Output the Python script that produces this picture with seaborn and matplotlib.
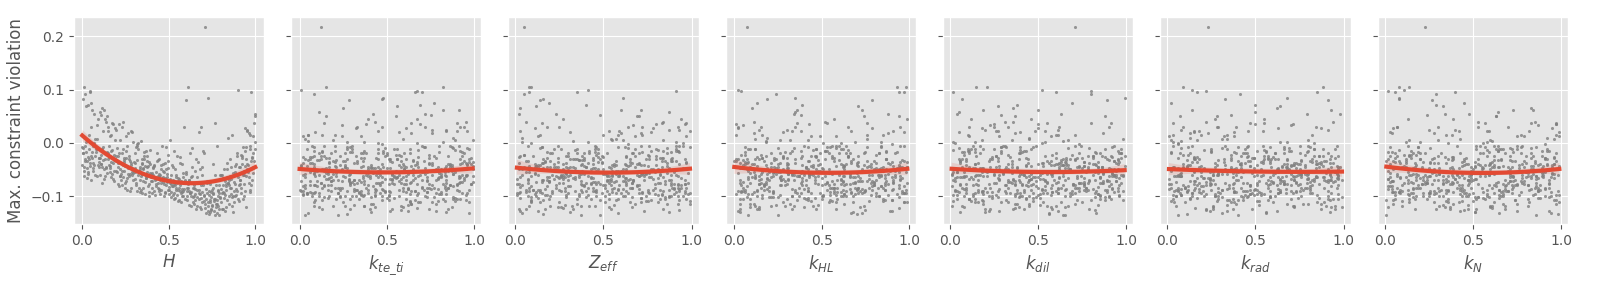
import numpy as np
import pandas as pd
import matplotlib
matplotlib.use("Agg")
import matplotlib.pyplot as plt
import seaborn as sns

# max. constraint violation (x 1e-3), one value per sample, same samples in every panel
violation = [
    82, 105, -48, -30, -62, 62, -41, -12, 45, -55, -20, 92, -66, -38, 75, -52, -25, 8, -45, 15,
    -8, -34, 70, -58, -44, -18, 55, -63, -36, -5, -52, 2, -27, 95, -70, -48, -60, 33, -28, -42,
    58, -45, -67, 40, -30, -55, 12, -38, -72, 25, -22, 65, -50, -62, 30, -41, -15, -58, 5, -35,
    -60, 22, -33, -48, 50, -26, -65, 38, -52, -10, -40, -75, 45, -20, -56, -44, 15, -68, -30, 28,
    -55, 35, -70, -42, -85, -28, 18, -62, -48, -36, -78, -50, 5, -65, -32, -88, -45, -58, 22, -70,
    -35, -63, -80, 40, -52, -72, -25, -90, -60, 2, -46, -82, -58, -20, -75, 12, -66, -38, -84, -54,
    -68, -2, -85, -45, -95, -30, -74, -55, -100, -40, -20, -80, -60, 3, -88, -50, -66, -35, -92, -72,
    -48, -90, -12, -70, -58, -25, -97, -82, -44, -64, -8, -76, -52, -93, -38, -84, -15, -62, -78, -56,
    -72, -90, -55, -84, -30, -96, -65, -78, -50, -88, -60, -42, -98, -75, -86, -68, -5, -92, -80, -58,
    -85, -64, -78, -20, -70, -88, -52, -100, -74, -35, -95, -48, -82, -62, -90, -76, -40, -66, -94, -83,
    -88, -102, -70, -95, -25, -110, -80, -92, -65, -105, 5, -78, -98, -84, -60, -108, -90, -40, -100, -75,
    -96, -82, -45, -104, -88, -72, -112, -94, 30, -86, -76, -92, -106, -15, -98, -84, -68, -100, -90, -55,
    80, 105, -95, -112, -80, -30, -118, -88, -104, -60, -100, -85, -118, -45, -96, -108, -74, 20, -125, -92,
    -108, -70, -94, -10, -115, -86, -102, -50, -120, -80, -90, -116, -20, -100, -84, -124, -65, -106, 30, -112,
    218, -122, -95, -130, -108, -85, -135, -115, -100, -60, -110, 85, -128, -90, -118, -40, -105, -132, -88, -125,
    -98, -132, -75, -112, -126, -95, 37, -120, -135, -102, -20, -105, -118, -134, -92, -110, -128, -5, -115, -80,
    -112, -80, -128, -65, -100, -30, -118, -90, -55, -105, -95, -124, -72, -108, 10, -85, -130, -62, -98, -40,
    -60, -104, -88, -120, -75, -96, -45, -112, -78, -20, -125, -92, -50, -82, -115, -68, 15, -100, -86, -58,
    100, -85, -60, -100, -30, 22, -75, 95, -45, 50, -110, -70, -40, -90, -15, -55, 18, -80, -20, 55,
    -65, -95, -25, -78, -120, -50, -5, -88, 12, -35, -80, -45, -105, -8, -62, 25, -92, -28, -70, -12,
    -20, -5, -35, -12, 30, -28, 0, -18, -42, 72, -10, -30, -18, 98, -25, -38, 8, -12, -28, -45,
    -28, -12, 62, -45, -20, -5, -36, 35, -22, -52, -40, -8, -30, -18, 22, -48, -14, -32, -25, 52,
    -38, -20, -52, -28, -44, -6, -58, -34, 20, -50, -24, -62, 30, -36, -16, -48, -30, -42, -56, -12,
    -54, -32, 0, -62, -40, -18, -66, -46, -36, -58, -38, -6, -50, -30, -72, -44, -24, -62, -14, -48,
    -56, -44, -68, -32, -60, -50, -74, -38, -64, -22, -46, -70, -34, -58, -42, -66, -54, -8, -48, -62,
    -72, -60, -82, -50, -76, -66, -38, -86, -74, -58, -68, -42, -78, -64, -88, -26, -72, -56, -70, -80,
    -84, -70, -92, -62, -100, -76, -36, -94, -80, -15, -78, -90, -64, -102, -52, -88, -74, -96, -46, -84,
    -100, -86, -112, -78, -116, -96, -60, -108, -90, -104, -114, -72, -98, -124, -88, -106, -80, -118, -94, -102,
    -86, -66, -98, -50, -80, -62, -102, -74, -44, -90, -60, -94, -78, -38, -70, -84, -56, -100, -24, -76,
    -45, -78, -28, -60, -8, -42, 14, -34, -56, 2, -70, -22, -52, 28, -40, -64, -12, -26, 38, -44,
]

# H (x 1e-3)
H = [
    3, 12, 25, 41, 8, 55, 67, 79, 91, 33, 5, 18, 29, 44, 50, 61, 73, 86, 97, 38,
    1, 15, 22, 36, 47, 58, 70, 83, 94, 65, 9, 20, 31, 42, 53, 64, 76, 88, 99, 0,
    104, 117, 125, 139, 146, 158, 163, 177, 185, 196, 108, 112, 128, 133, 149, 152, 168, 171, 189, 193,
    101, 119, 122, 137, 141, 155, 166, 174, 182, 199, 106, 115, 131, 135, 144, 161, 169, 179, 187, 191,
    203, 214, 226, 233, 247, 251, 266, 272, 285, 298, 208, 219, 221, 238, 242, 259, 263, 277, 281, 292,
    201, 216, 229, 236, 244, 255, 268, 274, 287, 295, 206, 211, 224, 231, 249, 253, 261, 279, 283, 290,
    302, 315, 327, 334, 348, 356, 361, 377, 384, 393, 307, 312, 324, 339, 341, 352, 368, 373, 386, 398,
    305, 318, 321, 336, 344, 359, 364, 379, 382, 395, 309, 311, 329, 331, 347, 353, 366, 371, 388, 390,
    404, 413, 428, 435, 446, 452, 467, 471, 486, 497, 408, 417, 422, 438, 443, 459, 461, 479, 483, 492,
    401, 419, 426, 433, 447, 454, 465, 474, 488, 495, 406, 411, 424, 437, 441, 456, 469, 476, 481, 499,
    503, 515, 527, 531, 548, 552, 566, 574, 585, 593, 507, 512, 524, 539, 541, 558, 563, 577, 582, 596,
    501, 518, 522, 536, 544, 555, 569, 571, 588, 590, 505, 511, 529, 533, 546, 557, 561, 579, 584, 598,
    602, 614, 625, 638, 643, 657, 662, 676, 684, 695, 608, 611, 627, 633, 649, 651, 668, 672, 689, 691,
    605, 617, 621, 636, 645, 654, 665, 679, 682, 698, 606, 619, 623, 631, 647, 659, 661, 674, 687, 693,
    712, 708, 723, 738, 741, 756, 765, 772, 784, 797, 703, 729, 727, 734, 749, 753, 767, 779, 786, 791,
    701, 716, 721, 737, 745, 758, 769, 774, 788, 795, 706, 714, 725, 732, 747, 759, 762, 777, 781, 793,
    804, 816, 823, 835, 846, 852, 864, 877, 883, 898, 809, 812, 826, 838, 841, 855, 869, 873, 887, 891,
    801, 818, 828, 831, 844, 859, 862, 878, 885, 894, 806, 814, 821, 833, 849, 857, 866, 871, 889, 896,
    902, 915, 927, 933, 948, 951, 966, 974, 985, 997, 907, 912, 924, 939, 941, 958, 963, 977, 986, 1000,
    901, 918, 922, 936, 944, 955, 969, 971, 988, 995, 905, 911, 929, 931, 947, 953, 968, 979, 982, 999,
    4, 16, 27, 39, 48, 57, 69, 81, 92, 35, 7, 14, 24, 46, 52, 63, 74, 85, 96, 11,
    103, 114, 127, 136, 148, 156, 165, 176, 184, 197, 109, 121, 129, 143, 151, 162, 172, 181, 194, 110,
    204, 213, 227, 239, 245, 257, 264, 276, 286, 297, 209, 218, 232, 241, 252, 262, 271, 282, 293, 234,
    303, 316, 325, 338, 345, 357, 367, 376, 387, 396, 306, 319, 332, 343, 351, 362, 374, 383, 392, 349,
    403, 414, 427, 436, 448, 457, 466, 478, 487, 496, 409, 418, 431, 442, 453, 463, 472, 482, 493, 444,
    504, 513, 526, 537, 547, 556, 567, 576, 586, 597, 508, 519, 532, 543, 553, 564, 573, 583, 594, 538,
    603, 615, 626, 637, 648, 656, 667, 677, 685, 696, 609, 618, 628, 641, 653, 664, 673, 683, 694, 639,
    704, 715, 726, 736, 748, 757, 766, 776, 787, 796, 709, 719, 731, 742, 752, 763, 773, 783, 792, 743,
    803, 815, 824, 836, 847, 856, 867, 876, 884, 895, 808, 819, 829, 839, 851, 861, 872, 882, 892, 843,
    904, 914, 926, 937, 946, 957, 967, 976, 987, 996, 909, 919, 932, 942, 952, 962, 972, 983, 993, 938,
]

# remaining inputs (x 1e-2)
k_te_ti = [
    47, 82, 15, 3, 68, 91, 26, 54, 39, 70, 63, 8, 94, 31, 77, 45, 12, 59, 86, 20,
    29, 71, 56, 88, 4, 13, 42, 95, 67, 30, 85, 37, 2, 66, 19, 50, 93, 24, 78, 41,
    11, 58, 79, 43, 97, 62, 35, 6, 28, 84, 74, 25, 60, 9, 33, 87, 48, 16, 99, 52,
    38, 96, 21, 72, 55, 7, 81, 64, 14, 49, 92, 44, 67, 18, 80, 36, 5, 53, 27, 61,
    6, 69, 34, 57, 23, 98, 76, 40, 83, 17, 51, 13, 89, 26, 65, 0, 39, 72, 45, 94,
    33, 84, 46, 95, 10, 73, 58, 2, 69, 27, 79, 2, 53, 38, 91, 24, 66, 17, 85, 40,
    16, 47, 74, 61, 8, 52, 30, 89, 23, 96, 60, 90, 28, 5, 44, 81, 17, 36, 73, 57,
    42, 35, 97, 70, 29, 14, 63, 88, 1, 56, 87, 63, 9, 49, 76, 38, 92, 21, 54, 15,
    24, 18, 71, 83, 56, 4, 45, 67, 99, 32, 95, 76, 37, 12, 62, 58, 20, 43, 8, 81,
    3, 59, 82, 45, 31, 97, 74, 11, 64, 26, 68, 27, 14, 91, 49, 33, 86, 55, 7, 70,
    57, 41, 65, 22, 93, 79, 6, 34, 18, 88, 19, 98, 43, 77, 2, 66, 51, 85, 30, 12,
    81, 10, 26, 54, 39, 1, 68, 93, 47, 75, 46, 73, 90, 8, 67, 24, 15, 32, 59, 83,
    28, 15, 4, 63, 86, 92, 37, 71, 50, 44, 72, 22, 58, 35, 84, 47, 99, 9, 13, 61,
    9, 53, 78, 96, 42, 31, 23, 60, 87, 14, 64, 31, 11, 47, 73, 85, 56, 29, 92, 8,
    12, 67, 39, 84, 95, 20, 3, 78, 51, 46, 89, 48, 62, 1, 26, 74, 34, 97, 16, 53,
    35, 5, 84, 69, 58, 11, 90, 43, 22, 77, 50, 92, 19, 27, 6, 63, 78, 14, 41, 86,
    97, 39, 52, 80, 17, 45, 8, 66, 73, 21, 22, 74, 6, 13, 88, 59, 41, 36, 95, 67,
    76, 16, 33, 59, 45, 2, 87, 25, 61, 94, 40, 81, 95, 42, 64, 28, 13, 57, 79, 3,
    1, 62, 83, 36, 51, 90, 29, 70, 48, 15, 83, 28, 47, 91, 20, 16, 64, 9, 35, 72,
    54, 96, 23, 74, 11, 39, 80, 48, 2, 65, 18, 45, 61, 8, 99, 76, 52, 37, 84, 30,
    36, 91, 58, 4, 72, 17, 45, 80, 23, 69, 88, 12, 30, 67, 49, 95, 3, 56, 74, 21,
    15, 63, 82, 41, 26, 7, 97, 38, 50, 79, 59, 27, 6, 93, 84, 43, 68, 11, 32, 75,
    2, 48, 71, 35, 60, 86, 19, 94, 57, 24, 77, 39, 94, 20, 13, 52, 61, 86, 8, 45,
    44, 5, 67, 81, 98, 29, 36, 17, 53, 62, 93, 70, 14, 56, 37, 64, 8, 25, 89, 41,
    21, 84, 49, 10, 65, 78, 92, 33, 3, 57, 68, 31, 25, 88, 1, 40, 55, 72, 96, 14,
    10, 57, 83, 46, 29, 91, 74, 62, 35, 8, 52, 96, 37, 73, 84, 6, 18, 45, 61, 29,
    85, 22, 9, 61, 43, 58, 99, 4, 76, 37, 31, 66, 92, 14, 55, 23, 47, 80, 8, 70,
    7, 43, 76, 98, 62, 35, 11, 51, 27, 89, 64, 18, 51, 29, 90, 82, 3, 37, 46, 73,
    47, 79, 2, 65, 16, 54, 88, 93, 20, 31, 96, 34, 60, 7, 78, 13, 42, 26, 85, 53,
    26, 90, 44, 53, 71, 66, 5, 19, 39, 82, 73, 55, 87, 32, 8, 47, 27, 68, 14, 99,
]

Z_eff = [
    16, 9, 34, 88, 52, 71, 63, 45, 27, 90, 66, 5, 43, 97, 19, 28, 80, 54, 31, 72,
    58, 85, 12, 37, 64, 93, 2, 26, 49, 76, 24, 91, 50, 8, 73, 45, 36, 67, 82, 13,
    87, 40, 22, 6, 31, 79, 68, 15, 54, 93, 46, 3, 77, 61, 18, 55, 92, 39, 84, 20,
    13, 59, 38, 95, 70, 2, 27, 83, 46, 64, 69, 25, 94, 42, 11, 86, 50, 7, 33, 78,
    32, 80, 16, 57, 89, 44, 71, 23, 8, 65, 90, 47, 61, 28, 36, 13, 5, 74, 99, 52,
    17, 73, 4, 84, 55, 62, 38, 96, 21, 41, 53, 9, 29, 70, 43, 97, 81, 16, 65, 34,
    78, 64, 56, 11, 2, 35, 19, 48, 87, 93, 39, 88, 71, 33, 25, 50, 94, 6, 12, 67,
    4, 21, 47, 96, 82, 68, 53, 30, 75, 18, 62, 98, 35, 14, 49, 23, 77, 59, 1, 86,
    85, 52, 8, 41, 74, 90, 26, 37, 63, 10, 27, 14, 83, 66, 58, 1, 45, 91, 39, 72,
    44, 76, 92, 20, 7, 37, 63, 51, 15, 89, 96, 30, 18, 55, 63, 82, 11, 44, 70, 3,
    10, 85, 67, 49, 29, 74, 92, 3, 36, 58, 55, 43, 1, 79, 91, 16, 34, 62, 88, 27,
    36, 69, 24, 3, 46, 57, 81, 15, 92, 70, 81, 6, 53, 92, 17, 28, 65, 74, 40, 39,
    14, 8, 99, 25, 63, 48, 37, 87, 71, 52, 20, 94, 42, 68, 83, 9, 56, 31, 17, 75,
    48, 18, 76, 86, 35, 61, 29, 2, 53, 94, 93, 56, 30, 7, 66, 84, 43, 19, 25, 71,
    5, 27, 64, 31, 77, 90, 48, 86, 12, 59, 75, 61, 13, 44, 20, 38, 97, 58, 82, 6,
    29, 4, 88, 51, 93, 72, 15, 66, 37, 40, 67, 82, 45, 16, 38, 9, 73, 24, 99, 51,
    14, 50, 3, 77, 61, 96, 32, 45, 28, 85, 57, 33, 19, 93, 4, 66, 87, 70, 41, 22,
    88, 71, 58, 24, 53, 11, 40, 9, 96, 35, 2, 46, 81, 39, 68, 27, 14, 92, 55, 73,
    41, 97, 26, 62, 80, 53, 7, 35, 18, 69, 99, 15, 70, 8, 42, 31, 60, 54, 86, 23,
    34, 60, 49, 85, 26, 4, 91, 78, 13, 57, 70, 23, 35, 46, 9, 87, 55, 18, 64, 91,
    52, 7, 83, 26, 64, 39, 95, 18, 71, 40, 14, 76, 45, 91, 30, 2, 57, 68, 83, 29,
    89, 35, 60, 13, 47, 71, 24, 96, 5, 58, 27, 99, 16, 72, 3, 54, 81, 39, 63, 48,
    66, 21, 38, 84, 12, 95, 50, 7, 77, 43, 3, 58, 72, 47, 91, 16, 34, 65, 29, 80,
    75, 44, 9, 30, 56, 88, 63, 22, 97, 11, 41, 93, 27, 65, 19, 8, 76, 53, 34, 87,
    98, 12, 54, 36, 82, 61, 47, 70, 24, 5, 20, 67, 88, 51, 73, 33, 6, 15, 44, 92,
    61, 4, 31, 78, 40, 25, 86, 93, 12, 57, 34, 80, 96, 19, 6, 47, 52, 71, 88, 23,
    8, 53, 72, 41, 95, 66, 17, 30, 59, 84, 79, 26, 3, 87, 60, 14, 45, 98, 33, 51,
    46, 90, 65, 2, 28, 79, 31, 57, 84, 13, 92, 37, 18, 54, 75, 43, 69, 8, 21, 66,
    17, 62, 81, 95, 38, 70, 9, 44, 56, 28, 55, 1, 46, 29, 87, 92, 74, 36, 10, 63,
    83, 48, 24, 69, 15, 37, 58, 91, 76, 4, 30, 75, 57, 11, 44, 84, 22, 63, 97, 39,
]

k_HL = [
    19, 98, 84, 2, 36, 73, 45, 61, 57, 30, 92, 24, 50, 67, 13, 8, 39, 76, 41, 85,
    6, 43, 71, 15, 58, 87, 34, 22, 99, 60, 48, 69, 13, 94, 27, 31, 82, 5, 56, 70,
    35, 96, 61, 52, 7, 20, 44, 88, 73, 14, 81, 10, 28, 37, 65, 94, 53, 19, 42, 76,
    60, 33, 5, 81, 94, 47, 12, 76, 29, 58, 25, 78, 99, 54, 40, 63, 16, 31, 87, 2,
    73, 1, 46, 30, 59, 16, 88, 62, 24, 95, 14, 87, 32, 69, 48, 75, 23, 56, 91, 3,
    97, 52, 80, 11, 26, 39, 65, 4, 43, 18, 41, 17, 66, 83, 9, 58, 72, 30, 94, 25,
    8, 90, 37, 45, 71, 24, 53, 16, 62, 89, 66, 29, 84, 18, 53, 7, 96, 42, 35, 71,
    30, 75, 12, 59, 88, 44, 1, 97, 63, 26, 53, 46, 92, 6, 21, 69, 38, 84, 17, 70,
    87, 64, 23, 77, 35, 93, 10, 48, 51, 6, 12, 39, 55, 91, 70, 28, 84, 67, 4, 43,
    71, 8, 14, 26, 95, 62, 49, 33, 80, 57, 44, 93, 79, 63, 2, 15, 31, 86, 57, 20,
    90, 20, 41, 73, 47, 56, 27, 11, 68, 85, 26, 61, 88, 5, 34, 90, 72, 49, 13, 38,
    63, 84, 9, 40, 17, 76, 58, 22, 35, 91, 3, 55, 30, 87, 78, 42, 19, 64, 96, 11,
    79, 93, 67, 28, 54, 1, 12, 35, 46, 83, 37, 71, 45, 95, 10, 86, 62, 28, 3, 59,
    55, 27, 98, 34, 63, 19, 7, 80, 72, 41, 20, 48, 74, 50, 82, 33, 66, 9, 15, 97,
    7, 94, 36, 68, 42, 57, 25, 11, 83, 79, 85, 35, 2, 13, 29, 64, 50, 73, 98, 47,
    16, 67, 53, 99, 75, 81, 36, 40, 8, 22, 49, 3, 21, 70, 61, 44, 89, 95, 32, 17,
    68, 80, 90, 43, 33, 12, 74, 57, 26, 5, 96, 14, 62, 36, 19, 85, 3, 27, 51, 78,
    33, 42, 79, 9, 86, 69, 21, 54, 18, 60, 58, 22, 17, 84, 3, 95, 76, 68, 40, 31,
    2, 56, 43, 61, 14, 38, 80, 97, 25, 74, 77, 91, 6, 22, 52, 46, 11, 39, 64, 88,
    21, 38, 65, 57, 14, 73, 97, 86, 49, 0, 94, 76, 59, 42, 66, 30, 4, 23, 81, 12,
    83, 40, 17, 62, 95, 28, 51, 6, 74, 39, 25, 68, 93, 4, 56, 81, 12, 47, 30, 99,
    57, 9, 36, 78, 21, 64, 90, 43, 15, 82, 11, 84, 52, 29, 67, 3, 45, 96, 71, 38,
    70, 32, 89, 16, 44, 58, 24, 1, 97, 63, 46, 95, 2, 71, 33, 19, 87, 62, 54, 8,
    94, 23, 61, 48, 10, 75, 39, 85, 6, 31, 3, 56, 42, 87, 79, 91, 28, 14, 65, 50,
    38, 77, 15, 60, 92, 47, 69, 26, 83, 4, 62, 14, 80, 33, 5, 26, 98, 55, 41, 71,
    29, 86, 7, 54, 68, 12, 35, 73, 91, 44, 77, 48, 30, 92, 13, 65, 56, 2, 20, 86,
    15, 61, 74, 37, 83, 99, 8, 49, 26, 52, 88, 5, 46, 21, 39, 70, 18, 63, 94, 57,
    51, 33, 97, 66, 24, 8, 77, 90, 42, 16, 9, 72, 58, 13, 86, 41, 63, 34, 97, 25,
    66, 19, 26, 83, 50, 37, 94, 5, 71, 42, 40, 97, 64, 7, 31, 55, 22, 81, 18, 69,
    99, 52, 38, 45, 76, 18, 1, 67, 9, 84, 34, 6, 85, 79, 61, 90, 47, 28, 53, 13,
]

k_dil = [
    7, 21, 38, 95, 64, 50, 83, 12, 46, 77, 17, 80, 3, 52, 69, 94, 26, 45, 38, 61,
    92, 55, 27, 41, 76, 8, 63, 19, 84, 30, 39, 14, 88, 60, 2, 75, 51, 23, 97, 66,
    5, 73, 46, 31, 89, 18, 57, 62, 94, 20, 58, 36, 91, 74, 25, 43, 10, 87, 67, 9,
    81, 48, 66, 13, 37, 92, 4, 55, 20, 79, 33, 97, 12, 85, 64, 28, 71, 46, 9, 50,
    46, 25, 59, 9, 72, 81, 37, 90, 14, 63, 70, 62, 18, 43, 95, 54, 86, 1, 27, 39,
    22, 9, 71, 36, 48, 87, 15, 60, 93, 54, 86, 44, 30, 97, 55, 11, 62, 79, 23, 8,
    51, 73, 95, 26, 14, 68, 40, 2, 37, 82, 11, 58, 42, 64, 89, 33, 76, 27, 5, 90,
    67, 3, 25, 82, 40, 91, 19, 54, 76, 48, 29, 85, 64, 18, 6, 57, 43, 72, 91, 30,
    94, 31, 87, 50, 23, 69, 6, 15, 78, 42, 42, 67, 2, 74, 81, 36, 93, 58, 13, 25,
    7, 50, 76, 39, 16, 88, 22, 65, 44, 93, 55, 19, 49, 8, 73, 25, 61, 96, 32, 84,
    78, 90, 33, 61, 54, 12, 46, 21, 7, 85, 35, 6, 57, 92, 28, 80, 69, 14, 41, 73,
    13, 76, 84, 47, 65, 3, 29, 38, 90, 52, 60, 42, 11, 29, 96, 71, 53, 85, 18, 4,
    89, 15, 68, 53, 37, 44, 1, 76, 24, 97, 24, 63, 7, 86, 51, 98, 34, 40, 79, 16,
    72, 28, 40, 5, 19, 66, 82, 93, 57, 31, 4, 84, 96, 68, 33, 20, 47, 11, 62, 75,
    71, 37, 53, 20, 88, 9, 64, 45, 96, 16, 47, 99, 22, 77, 60, 35, 14, 83, 3, 58,
    26, 56, 73, 14, 82, 47, 91, 8, 65, 39, 83, 11, 45, 56, 93, 2, 28, 71, 37, 64,
    16, 70, 61, 94, 8, 39, 55, 27, 82, 43, 61, 23, 89, 32, 45, 77, 6, 98, 50, 14,
    98, 51, 16, 65, 26, 84, 72, 33, 9, 40, 36, 89, 28, 1, 71, 13, 60, 45, 92, 57,
    52, 77, 94, 40, 64, 26, 35, 2, 11, 88, 19, 65, 50, 83, 11, 59, 87, 32, 73, 4,
    85, 34, 81, 70, 39, 95, 17, 52, 28, 6, 43, 78, 4, 47, 92, 61, 24, 66, 89, 19,
    29, 74, 93, 46, 11, 60, 3, 82, 57, 38, 67, 5, 41, 80, 26, 53, 98, 14, 72, 35,
    43, 88, 19, 62, 97, 31, 76, 50, 8, 24, 95, 32, 71, 7, 54, 18, 40, 63, 86, 29,
    16, 60, 84, 27, 73, 49, 92, 35, 5, 68, 78, 21, 33, 96, 42, 65, 7, 59, 84, 10,
    4, 90, 52, 39, 81, 14, 67, 23, 76, 46, 56, 13, 68, 24, 37, 99, 81, 45, 2, 90,
    87, 46, 28, 71, 15, 3, 55, 94, 62, 33, 32, 79, 6, 58, 64, 85, 21, 40, 17, 93,
    49, 17, 90, 3, 86, 72, 44, 28, 61, 55, 11, 63, 47, 85, 38, 24, 79, 92, 54, 6,
    73, 36, 58, 14, 22, 87, 65, 9, 41, 95, 22, 95, 12, 49, 70, 46, 33, 84, 7, 61,
    90, 8, 63, 76, 51, 37, 25, 18, 98, 43, 38, 54, 85, 42, 9, 91, 16, 67, 71, 27,
    61, 27, 4, 31, 96, 58, 88, 76, 43, 19, 1, 82, 37, 66, 45, 20, 52, 13, 99, 78,
    84, 41, 75, 93, 29, 64, 10, 57, 35, 2, 45, 69, 26, 18, 60, 8, 97, 34, 80, 53,
]

k_rad = [
    33, 88, 6, 59, 71, 14, 42, 95, 27, 60, 75, 41, 20, 86, 2, 63, 57, 34, 98, 19,
    12, 90, 64, 31, 47, 25, 79, 8, 53, 96, 68, 3, 45, 17, 92, 84, 29, 70, 36, 51,
    50, 27, 83, 94, 16, 39, 1, 73, 65, 8, 9, 62, 38, 53, 84, 71, 25, 96, 17, 40,
    97, 15, 76, 42, 28, 60, 89, 3, 54, 31, 41, 73, 55, 2, 96, 19, 34, 80, 68, 87,
    24, 50, 91, 78, 35, 6, 13, 67, 49, 82, 86, 36, 2, 65, 11, 47, 78, 29, 54, 93,
    58, 19, 47, 22, 70, 95, 83, 38, 6, 64, 3, 81, 92, 45, 66, 32, 17, 54, 78, 26,
    79, 6, 29, 67, 53, 18, 91, 40, 14, 85, 44, 97, 60, 8, 31, 75, 23, 89, 52, 16,
    21, 58, 34, 99, 7, 86, 47, 12, 70, 63, 66, 24, 87, 39, 94, 10, 51, 73, 2, 48,
    15, 70, 43, 96, 82, 27, 58, 1, 36, 64, 92, 33, 8, 51, 18, 64, 75, 29, 47, 80,
    37, 84, 68, 13, 57, 5, 91, 42, 22, 76, 63, 2, 19, 84, 45, 38, 66, 97, 71, 10,
    6, 45, 72, 30, 88, 51, 17, 64, 93, 29, 80, 27, 53, 16, 39, 92, 4, 68, 61, 45,
    47, 93, 11, 74, 25, 66, 38, 82, 9, 50, 18, 64, 37, 56, 3, 89, 70, 21, 44, 95,
    91, 9, 48, 85, 62, 32, 26, 77, 13, 54, 29, 76, 95, 4, 51, 43, 60, 15, 87, 38,
    57, 40, 14, 69, 77, 8, 99, 33, 26, 82, 73, 52, 66, 27, 10, 48, 85, 91, 39, 4,
    23, 16, 81, 92, 34, 57, 40, 68, 5, 76, 2, 68, 24, 43, 90, 75, 13, 56, 81, 37,
    85, 31, 79, 60, 22, 14, 47, 93, 6, 58, 39, 94, 5, 11, 73, 28, 62, 46, 87, 70,
    10, 57, 34, 88, 46, 63, 71, 20, 95, 3, 67, 22, 90, 35, 13, 81, 56, 7, 49, 74,
    28, 86, 51, 72, 64, 97, 9, 36, 15, 43, 95, 11, 63, 47, 39, 24, 82, 58, 1, 70,
    14, 79, 26, 91, 55, 46, 33, 85, 68, 7, 52, 39, 87, 6, 80, 15, 23, 74, 61, 98,
    76, 7, 42, 25, 99, 69, 54, 12, 38, 81, 35, 65, 70, 58, 8, 91, 18, 49, 26, 83,
    61, 14, 47, 83, 29, 95, 6, 38, 72, 50, 8, 57, 79, 22, 93, 44, 31, 66, 15, 86,
    48, 25, 93, 59, 7, 80, 14, 71, 36, 2, 84, 40, 61, 2, 18, 73, 55, 29, 97, 36,
    27, 91, 15, 49, 65, 3, 76, 84, 38, 53, 55, 6, 28, 87, 70, 39, 92, 13, 61, 44,
    19, 68, 83, 7, 41, 56, 24, 97, 32, 75, 72, 33, 97, 15, 59, 88, 46, 4, 21, 63,
    90, 47, 1, 36, 26, 62, 73, 58, 84, 12, 36, 89, 54, 78, 12, 21, 63, 45, 9, 97,
    13, 74, 20, 91, 56, 80, 42, 67, 5, 34, 97, 28, 66, 37, 49, 15, 83, 8, 72, 51,
    42, 82, 38, 5, 76, 60, 17, 93, 24, 69, 66, 11, 72, 43, 87, 31, 94, 55, 18, 2,
    5, 63, 89, 58, 34, 22, 79, 40, 91, 17, 80, 52, 44, 26, 15, 97, 9, 72, 63, 31,
    34, 96, 8, 68, 22, 49, 58, 81, 11, 75, 51, 19, 75, 92, 64, 6, 37, 27, 86, 43,
    93, 37, 57, 14, 81, 70, 3, 46, 29, 68, 24, 78, 31, 63, 9, 42, 88, 17, 55, 96,
]

k_N = [
    8, 14, 42, 91, 25, 73, 57, 66, 39, 80, 54, 29, 87, 12, 45, 70, 3, 96, 61, 38,
    77, 5, 33, 62, 90, 19, 48, 81, 26, 54, 31, 58, 96, 40, 74, 6, 23, 87, 15, 62,
    64, 17, 2, 85, 53, 36, 99, 28, 71, 40, 18, 83, 55, 26, 7, 92, 64, 41, 30, 79,
    90, 42, 71, 7, 63, 34, 18, 57, 85, 26, 46, 24, 13, 68, 89, 51, 77, 35, 2, 95,
    69, 97, 28, 45, 16, 83, 4, 72, 37, 51, 23, 71, 60, 94, 38, 9, 55, 16, 82, 47,
    85, 36, 19, 53, 77, 4, 62, 98, 41, 20, 12, 63, 84, 32, 48, 75, 9, 26, 93, 57,
    40, 91, 7, 79, 22, 66, 35, 54, 18, 88, 97, 10, 49, 61, 35, 21, 83, 72, 56, 4,
    56, 44, 75, 18, 96, 30, 67, 3, 83, 22, 3, 78, 33, 94, 60, 49, 15, 86, 27, 71,
    73, 26, 91, 44, 12, 58, 80, 37, 5, 65, 29, 95, 65, 16, 83, 40, 52, 8, 74, 31,
    61, 12, 38, 77, 50, 87, 26, 94, 3, 45, 35, 89, 4, 57, 28, 63, 96, 20, 46, 73,
    82, 53, 24, 9, 71, 35, 47, 66, 90, 14, 14, 67, 97, 43, 59, 1, 31, 78, 22, 86,
    48, 2, 62, 88, 36, 79, 14, 25, 53, 91, 93, 39, 17, 64, 84, 55, 2, 46, 70, 28,
    27, 8, 50, 36, 75, 92, 61, 13, 87, 44, 66, 20, 81, 10, 43, 74, 38, 99, 52, 5,
    5, 48, 29, 83, 67, 16, 93, 60, 34, 72, 87, 33, 56, 25, 19, 68, 42, 81, 7, 99,
    23, 61, 72, 51, 97, 30, 86, 5, 44, 14, 50, 8, 43, 70, 31, 96, 24, 65, 88, 17,
    76, 94, 11, 28, 45, 62, 83, 37, 1, 59, 20, 57, 68, 98, 6, 44, 75, 13, 39, 81,
    42, 81, 93, 3, 58, 27, 10, 69, 64, 36, 15, 29, 36, 74, 92, 87, 51, 48, 6, 60,
    98, 65, 45, 60, 33, 13, 70, 82, 21, 6, 37, 4, 21, 86, 75, 52, 97, 31, 68, 18,
    11, 85, 78, 47, 20, 59, 39, 6, 95, 63, 10, 47, 3, 67, 93, 80, 28, 59, 16, 34,
    71, 16, 89, 53, 2, 39, 64, 43, 79, 97, 44, 72, 52, 19, 86, 25, 8, 91, 33, 67,
    43, 78, 12, 65, 30, 91, 56, 4, 87, 29, 71, 36, 59, 2, 84, 17, 43, 92, 28, 65,
    6, 52, 84, 38, 23, 75, 61, 97, 14, 49, 92, 19, 45, 73, 58, 31, 8, 66, 80, 24,
    35, 83, 27, 96, 11, 62, 49, 74, 3, 50, 58, 7, 70, 44, 92, 25, 39, 18, 81, 63,
    13, 64, 36, 89, 47, 2, 78, 51, 22, 95, 80, 41, 93, 20, 5, 67, 14, 33, 58, 76,
    27, 99, 51, 62, 38, 84, 23, 9, 73, 15, 64, 22, 8, 31, 76, 49, 90, 57, 16, 83,
    49, 15, 68, 83, 24, 96, 30, 72, 41, 7, 86, 54, 21, 9, 65, 38, 77, 3, 93, 42,
    18, 30, 77, 54, 91, 13, 6, 45, 62, 89, 75, 87, 39, 16, 2, 58, 64, 28, 49, 91,
    33, 4, 62, 79, 47, 85, 19, 96, 10, 56, 97, 71, 14, 47, 32, 6, 88, 60, 25, 53,
    2, 45, 99, 28, 69, 73, 51, 15, 84, 36, 59, 26, 33, 85, 13, 41, 95, 67, 7, 70,
    21, 93, 46, 71, 86, 59, 35, 1, 54, 12, 68, 11, 88, 5, 53, 24, 72, 39, 97, 44,
]

inputs = ['H', 'k_te_ti', 'Z_eff', 'k_HL', 'k_dil', 'k_rad', 'k_N']
labels = [r'$H$', r'$k_{te\_ti}$', r'$Z_{eff}$', r'$k_{HL}$', r'$k_{dil}$', r'$k_{rad}$', r'$k_N$']

df = pd.DataFrame({
    'H': np.array(H) / 1000,
    'k_te_ti': np.array(k_te_ti) / 100,
    'Z_eff': np.array(Z_eff) / 100,
    'k_HL': np.array(k_HL) / 100,
    'k_dil': np.array(k_dil) / 100,
    'k_rad': np.array(k_rad) / 100,
    'k_N': np.array(k_N) / 100,
    'violation': np.array(violation) / 1000,
})

plt.style.use('ggplot')
fig, axes = plt.subplots(1, 7, figsize=(16, 3), sharey=True)

for ax, col, lab in zip(axes, inputs, labels):
    sns.regplot(data=df, x=col, y='violation', order=2, ax=ax, seed=0,
                scatter_kws={'s': 5, 'color': 'gray', 'linewidths': 0},
                line_kws={'color': '#E24A33', 'lw': 3})
    ax.set_xlabel(lab, fontsize=12)
    ax.set_ylabel('')
    ax.set_xticks([0, 0.5, 1.0])
    ax.tick_params(labelsize=10)

axes[0].set_yticks([-0.1, 0.0, 0.1, 0.2])
axes[0].set_ylabel('Max. constraint violation', fontsize=12)

fig.subplots_adjust(left=0.046, right=0.98, top=0.942, bottom=0.253, wspace=0.142)
fig.savefig('out.png', dpi=100)
